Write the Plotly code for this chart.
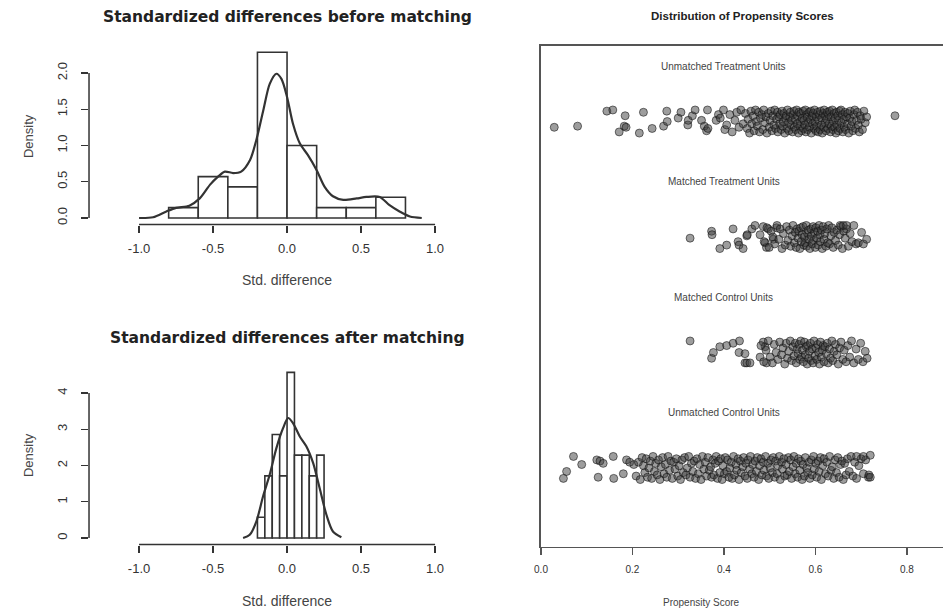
import plotly.graph_objects as go

# ---------------- Histogram data ----------------
BEFORE_BREAKS = [-0.8, -0.6, -0.4, -0.2, 0.0, 0.2, 0.4, 0.6, 0.8]
BEFORE_DENSITY = [0.143, 0.571, 0.429, 2.286, 1.0, 0.143, 0.143, 0.286]
BEFORE_CURVE_X = [-1.0, -0.905, -0.815, -0.75, -0.66, -0.59, -0.52, -0.466, -0.42, -0.365,
                  -0.31, -0.25, -0.207, -0.16, -0.117, -0.072, -0.038, 0.0, 0.04, 0.086,
                  0.14, 0.2, 0.254, 0.31, 0.38, 0.47, 0.536, 0.626, 0.69, 0.76, 0.83, 0.91]
BEFORE_CURVE_Y = [0.0, 0.01, 0.09, 0.14, 0.17, 0.27, 0.46, 0.57, 0.64, 0.62,
                  0.64, 0.8, 1.08, 1.49, 1.85, 1.99, 1.92, 1.67, 1.30, 1.03,
                  0.87, 0.66, 0.43, 0.30, 0.25, 0.27, 0.29, 0.29, 0.18, 0.09, 0.02, 0.0]

AFTER_BREAKS = [-0.2, -0.15, -0.1, -0.05, 0.0, 0.05, 0.1, 0.15, 0.2, 0.25]
AFTER_DENSITY = [0.571, 1.714, 2.857, 1.714, 4.571, 2.286, 2.286, 1.714, 2.286]
AFTER_CURVE_X = [-0.297, -0.252, -0.207, -0.162, -0.117, -0.072, -0.027, 0.007, 0.04, 0.086,
                 0.13, 0.176, 0.22, 0.266, 0.31, 0.367]
AFTER_CURVE_Y = [0.0, 0.09, 0.46, 1.15, 1.75, 2.48, 3.03, 3.31, 3.17, 2.8,
                 2.53, 2.07, 1.38, 0.64, 0.18, 0.02]

STD_X_TICKS = [-1.0, -0.5, 0.0, 0.5, 1.0]
STD_X_LABELS = ["-1.0", "-0.5", "0.0", "0.5", "1.0"]
BEFORE_Y_TICKS = [0.0, 0.5, 1.0, 1.5, 2.0]
BEFORE_Y_LABELS = ["0.0", "0.5", "1.0", "1.5", "2.0"]
AFTER_Y_TICKS = [0, 1, 2, 3, 4]
AFTER_Y_LABELS = ["0", "1", "2", "3", "4"]

# ---------------- Propensity score jitter data ----------------
GROUP_NAMES = ["Unmatched Treatment Units", "Matched Treatment Units",
               "Matched Control Units", "Unmatched Control Units"]
GROUP_LEVELS = [4, 3, 2, 1]
PS_X_TICKS = [0.0, 0.2, 0.4, 0.6, 0.8]
PS_X_LABELS = ["0.0", "0.2", "0.4", "0.6", "0.8"]

UT_X = [0.029, 0.080, 0.144, 0.157, 0.171, 0.182, 0.184, 0.186, 0.215, 0.224,
        0.243, 0.268, 0.275, 0.276, 0.300, 0.306, 0.321, 0.322, 0.331, 0.337,
        0.351, 0.357, 0.362, 0.364, 0.365, 0.383, 0.388,
        0.392, 0.399, 0.402, 0.406, 0.413, 0.418, 0.424, 0.428, 0.433, 0.437,
        0.442, 0.447, 0.451, 0.453, 0.456, 0.459, 0.461, 0.464, 0.466, 0.469,
        0.471, 0.473, 0.476, 0.478, 0.480, 0.483, 0.485, 0.487, 0.490, 0.492,
        0.494, 0.497, 0.499, 0.501, 0.503, 0.505, 0.507, 0.509, 0.511, 0.513,
        0.515, 0.517, 0.518, 0.520, 0.522, 0.523, 0.525, 0.527, 0.528, 0.530,
        0.531, 0.533, 0.535, 0.536, 0.538, 0.539, 0.541, 0.542, 0.544, 0.545,
        0.547, 0.548, 0.550, 0.551, 0.553, 0.554, 0.556, 0.557, 0.559, 0.560,
        0.561, 0.563, 0.564, 0.566, 0.567, 0.568, 0.570, 0.571, 0.573, 0.574,
        0.575, 0.577, 0.578, 0.579, 0.581, 0.582, 0.583, 0.585, 0.586, 0.587,
        0.589, 0.590, 0.591, 0.593, 0.594, 0.595, 0.597, 0.598, 0.599, 0.601,
        0.602, 0.603, 0.605, 0.606, 0.607, 0.609, 0.610, 0.611, 0.613, 0.614,
        0.615, 0.617, 0.618, 0.619, 0.621, 0.622, 0.623, 0.625, 0.626, 0.627,
        0.629, 0.630, 0.631, 0.633, 0.634, 0.635, 0.637, 0.638, 0.639, 0.641,
        0.642, 0.643, 0.645, 0.646, 0.647, 0.649, 0.650, 0.651, 0.653, 0.654,
        0.656, 0.657, 0.659, 0.660, 0.662, 0.663, 0.665, 0.666, 0.668, 0.670,
        0.671, 0.673, 0.675, 0.676, 0.678, 0.680, 0.682, 0.684, 0.686, 0.688,
        0.690, 0.692, 0.694, 0.696, 0.698, 0.700, 0.703, 0.706, 0.709, 0.712,
        0.774]
UT_DY = [-0.05, -0.04, 0.09, 0.10, -0.09, -0.04, 0.05, -0.05, -0.10, 0.08,
         -0.06, -0.04, 0.09, 0.00, 0.03, 0.08, -0.03, 0.01, 0.05, 0.10,
         0.01, -0.04, -0.08, 0.10, -0.06, 0.01, 0.06,
         0.03, 0.10, -0.07, -0.03, 0.06, -0.09, 0.01, 0.08, -0.05, 0.10,
         -0.02, 0.07, -0.06, 0.02, -0.10, 0.09, -0.02, 0.05, -0.08, 0.10,
         0.00, -0.04, 0.08, -0.09, 0.03, 0.06, -0.07, 0.10, -0.01, 0.04,
         -0.10, 0.07, -0.05, 0.01, 0.09, -0.08, 0.05, -0.03, 0.10, -0.06,
         0.02, 0.08, -0.09, 0.04, -0.02, 0.06, -0.07, 0.09, -0.04, 0.00,
         0.07, -0.10, 0.03, 0.05, -0.06, 0.10, -0.01, -0.08, 0.04, 0.08,
         -0.03, 0.01, -0.09, 0.06, 0.09, -0.05, 0.02, -0.07, 0.10, -0.02,
         0.05, -0.10, 0.08, -0.04, 0.00, 0.07, -0.08, 0.03, 0.09, -0.06,
         0.01, -0.03, 0.10, -0.09, 0.06, 0.04, -0.07, -0.01, 0.08, -0.05,
         0.02, 0.09, -0.10, 0.05, -0.02, 0.07, -0.06, 0.10, 0.00, -0.08,
         0.04, -0.04, 0.08, -0.09, 0.01, 0.06, -0.07, 0.09, -0.03, 0.03,
         -0.10, 0.07, -0.05, 0.10, -0.01, 0.05, -0.08, 0.02, 0.08, -0.06,
         0.06, -0.02, 0.09, -0.09, 0.04, -0.04, 0.10, -0.07, 0.00, 0.07,
         -0.05, 0.03, -0.10, 0.08, -0.03, 0.05, -0.08, 0.01, 0.09, -0.06,
         0.10, -0.01, 0.06, -0.09, 0.02, -0.05, 0.08, -0.07, 0.04, -0.02,
         0.07, -0.10, 0.03, 0.09, -0.04, 0.00, -0.08, 0.06, 0.10, -0.06,
         0.01, 0.08, -0.03, -0.09, 0.05, 0.02, -0.07, 0.09, -0.01, 0.04,
         0.05]

MT_X = [0.326, 0.373, 0.374, 0.391, 0.406, 0.420, 0.431, 0.433, 0.442, 0.450,
        0.451, 0.461, 0.468, 0.479, 0.486, 0.490, 0.493, 0.497, 0.508, 0.515,
        0.488, 0.494, 0.499, 0.503, 0.507, 0.511, 0.516, 0.520, 0.523, 0.527,
        0.530, 0.534, 0.537, 0.540, 0.543, 0.546, 0.549, 0.551, 0.554, 0.556,
        0.558, 0.560, 0.562, 0.564, 0.566, 0.568, 0.569, 0.571, 0.573, 0.575,
        0.576, 0.578, 0.580, 0.581, 0.583, 0.585, 0.586, 0.588, 0.590, 0.591,
        0.593, 0.595, 0.596, 0.598, 0.600, 0.601, 0.603, 0.605, 0.606, 0.608,
        0.610, 0.611, 0.613, 0.615, 0.617, 0.619, 0.621, 0.623, 0.625, 0.627,
        0.629, 0.631, 0.634, 0.636, 0.639, 0.641, 0.644, 0.647, 0.650, 0.653,
        0.656, 0.659, 0.662, 0.665, 0.668, 0.672, 0.676, 0.680, 0.684, 0.689,
        0.694, 0.701, 0.705, 0.712, 0.654, 0.661, 0.668]
MT_DY = [-0.01, 0.05, 0.02, -0.10, -0.07, 0.07, -0.04, -0.07, -0.10, 0.01,
         0.02, 0.07, 0.10, 0.02, 0.09, -0.05, -0.09, 0.07, -0.02, 0.08,
         -0.04, 0.08, -0.09, 0.05, 0.00, -0.06, 0.10, -0.02, 0.07, -0.10,
         0.03, -0.07, 0.09, -0.03, 0.06, -0.08, 0.01, 0.10, -0.05, 0.04,
         -0.09, 0.07, -0.01, 0.05, -0.10, 0.08, -0.04, 0.02, 0.09, -0.07,
         0.00, -0.05, 0.10, -0.08, 0.03, 0.06, -0.02, -0.10, 0.07, 0.01,
         -0.06, 0.09, -0.03, 0.04, -0.09, 0.08, -0.01, 0.05, -0.07, 0.10,
         0.02, -0.04, 0.06, -0.10, 0.09, -0.02, 0.03, -0.08, 0.07, -0.05,
         0.10, -0.06, 0.01, 0.08, -0.09, 0.04, -0.03, 0.06, -0.07, 0.02,
         0.09, -0.10, 0.05, -0.01, 0.07, -0.08, 0.03, -0.04, 0.10, -0.06,
         -0.05, 0.04, -0.06, -0.02, 0.10, 0.10, 0.10]

MC_X = [0.326, 0.373, 0.377, 0.391, 0.406, 0.420, 0.434, 0.433, 0.446, 0.446,
        0.450, 0.457, 0.479, 0.486, 0.490, 0.493,
        0.481, 0.487, 0.492, 0.497, 0.501, 0.506, 0.510, 0.514, 0.518, 0.522,
        0.526, 0.529, 0.533, 0.536, 0.539, 0.542, 0.545, 0.548, 0.551, 0.553,
        0.556, 0.558, 0.560, 0.562, 0.564, 0.566, 0.568, 0.570, 0.572, 0.574,
        0.576, 0.578, 0.580, 0.582, 0.583, 0.585, 0.587, 0.589, 0.591, 0.593,
        0.595, 0.597, 0.599, 0.601, 0.603, 0.605, 0.607, 0.609, 0.611, 0.613,
        0.615, 0.617, 0.619, 0.621, 0.624, 0.626, 0.628, 0.631, 0.633, 0.636,
        0.638, 0.641, 0.644, 0.647, 0.650, 0.653, 0.656, 0.660, 0.663, 0.667,
        0.671, 0.675, 0.679, 0.684, 0.689, 0.694, 0.699, 0.704, 0.709, 0.713]
MC_DY = [0.10, -0.05, 0.00, 0.05, 0.06, 0.08, 0.10, 0.00, -0.01, -0.09,
         -0.09, -0.09, -0.04, 0.09, 0.05, -0.09,
         0.06, -0.08, 0.02, 0.10, -0.04, -0.09, 0.07, 0.00, -0.06, 0.09,
         -0.02, 0.04, -0.10, 0.08, -0.05, 0.01, 0.10, -0.07, 0.05, -0.03,
         0.08, -0.09, 0.03, -0.01, 0.07, -0.06, 0.10, -0.04, 0.02, -0.08,
         0.09, -0.02, 0.05, -0.10, 0.06, -0.05, 0.01, 0.08, -0.07, 0.03,
         -0.09, 0.10, -0.03, 0.04, -0.06, 0.07, 0.00, -0.10, 0.09, -0.04,
         0.02, 0.06, -0.08, 0.05, -0.01, 0.08, -0.09, 0.03, -0.05, 0.10,
         -0.07, 0.01, 0.07, -0.02, -0.10, 0.04, 0.09, -0.06, 0.02, -0.08,
         0.06, -0.04, 0.10, -0.09, 0.03, -0.06, 0.08, -0.08, 0.01, -0.05]

UC_X = [0.049, 0.056, 0.071, 0.089, 0.122, 0.125, 0.129, 0.136, 0.158, 0.159,
        0.180, 0.187, 0.194, 0.203,
        0.208, 0.213, 0.217, 0.221, 0.224, 0.227, 0.230, 0.233, 0.236, 0.239,
        0.242, 0.245, 0.248, 0.251, 0.254, 0.257, 0.260, 0.263, 0.266, 0.269,
        0.272, 0.275, 0.278, 0.281, 0.284, 0.287, 0.290, 0.293, 0.296, 0.299,
        0.302, 0.305, 0.308, 0.311, 0.314, 0.317, 0.320, 0.323, 0.326, 0.329,
        0.332, 0.335, 0.338, 0.341, 0.344, 0.347, 0.350, 0.353, 0.356, 0.359,
        0.362, 0.365, 0.368, 0.371, 0.373, 0.376, 0.378, 0.381, 0.383, 0.386,
        0.388, 0.391, 0.393, 0.396, 0.398, 0.401, 0.403, 0.406, 0.408, 0.411,
        0.413, 0.416, 0.418, 0.421, 0.423, 0.426, 0.428, 0.431, 0.433, 0.436,
        0.438, 0.441, 0.443, 0.446, 0.448, 0.451, 0.453, 0.456, 0.458, 0.461,
        0.463, 0.466, 0.468, 0.471, 0.473, 0.476, 0.478, 0.481, 0.483, 0.486,
        0.488, 0.491, 0.493, 0.496, 0.498, 0.501, 0.503, 0.506, 0.508, 0.511,
        0.513, 0.516, 0.518, 0.521, 0.523, 0.526, 0.528, 0.531, 0.533, 0.536,
        0.538, 0.541, 0.543, 0.546, 0.548, 0.551, 0.553, 0.556, 0.558, 0.561,
        0.563, 0.566, 0.568, 0.571, 0.573, 0.576, 0.578, 0.581, 0.583, 0.586,
        0.588, 0.591, 0.593, 0.596, 0.598, 0.601, 0.603, 0.606, 0.608, 0.611,
        0.613, 0.616, 0.619, 0.622, 0.625, 0.628, 0.631, 0.634, 0.637, 0.640,
        0.643, 0.646, 0.649, 0.652, 0.655, 0.658, 0.661, 0.664, 0.667, 0.670,
        0.674, 0.678, 0.682, 0.686, 0.690, 0.695, 0.700, 0.705, 0.710, 0.716,
        0.690, 0.705, 0.720, 0.717, 0.720]
UC_DY = [-0.09, -0.03, 0.10, 0.03, 0.07, -0.08, 0.06, 0.04, 0.10, -0.09,
         -0.05, 0.07, 0.05, 0.03,
         -0.07, 0.05, -0.10, 0.09, 0.02, -0.04, 0.08, -0.08, 0.00, 0.06,
         -0.09, 0.10, -0.03, 0.04, -0.06, 0.07, -0.10, 0.01, 0.09, -0.05,
         0.03, -0.08, 0.10, -0.02, 0.06, -0.09, 0.05, -0.01, 0.08, -0.07,
         0.02, -0.10, 0.07, -0.04, 0.09, -0.06, 0.00, 0.10, -0.08, 0.04,
         -0.03, 0.06, -0.09, 0.08, -0.05, 0.03, -0.10, 0.10, -0.01, 0.05,
         -0.07, 0.09, -0.02, 0.01, -0.08, 0.07, -0.06, 0.04, 0.10, -0.09,
         0.06, -0.04, 0.08, -0.10, 0.02, -0.05, 0.09, -0.03, 0.07, -0.08,
         0.00, 0.05, -0.09, 0.10, -0.06, 0.03, -0.02, 0.08, -0.10, 0.06,
         -0.04, 0.01, 0.09, -0.07, 0.04, -0.09, 0.07, -0.01, 0.10, -0.05,
         0.03, -0.08, 0.06, -0.03, 0.09, -0.10, 0.02, 0.08, -0.06, 0.05,
         -0.02, 0.10, -0.07, 0.04, -0.09, 0.00, 0.07, -0.04, 0.09, -0.08,
         0.06, -0.05, 0.02, 0.10, -0.10, 0.05, -0.01, 0.08, -0.07, 0.03,
         -0.06, 0.09, -0.03, 0.07, -0.09, 0.01, 0.10, -0.05, 0.04, -0.08,
         0.08, -0.02, 0.06, -0.10, 0.03, -0.07, 0.09, 0.00, -0.04, 0.05,
         -0.09, 0.07, -0.06, 0.10, -0.01, 0.04, -0.08, 0.06, -0.03, 0.09,
         -0.10, 0.02, 0.08, -0.05, 0.05, -0.07, 0.10, -0.02, 0.01, -0.09,
         0.07, -0.04, 0.09, -0.08, 0.03, 0.06, -0.10, 0.04, -0.06, 0.08,
         -0.03, 0.10, -0.07, 0.05, -0.09, 0.02, 0.08, -0.05, 0.07, -0.08,
         0.10, 0.10, 0.11, -0.06, -0.08]

GROUP_X = [UT_X, MT_X, MC_X, UC_X]
GROUP_DY = [UT_DY, MT_DY, MC_DY, UC_DY]
for gx, gd in zip(GROUP_X, GROUP_DY):
    assert len(gx) == len(gd), (len(gx), len(gd))

# ---------------- Build figure ----------------
INK = "#333333"
fig = go.Figure()


def bars(breaks, dens, xa, ya):
    centers = [(a + b) / 2 for a, b in zip(breaks[:-1], breaks[1:])]
    widths = [b - a for a, b in zip(breaks[:-1], breaks[1:])]
    return go.Bar(x=centers, y=dens, width=widths, xaxis=xa, yaxis=ya,
                  marker=dict(color="white", line=dict(color=INK, width=1.6)),
                  hoverinfo="skip")


fig.add_trace(bars(BEFORE_BREAKS, BEFORE_DENSITY, "x", "y"))
fig.add_trace(go.Scatter(x=BEFORE_CURVE_X, y=BEFORE_CURVE_Y, xaxis="x", yaxis="y",
                         mode="lines", line=dict(color=INK, width=2.2, shape="spline", smoothing=0.8)))
fig.add_trace(bars(AFTER_BREAKS, AFTER_DENSITY, "x2", "y2"))
fig.add_trace(go.Scatter(x=AFTER_CURVE_X, y=AFTER_CURVE_Y, xaxis="x2", yaxis="y2",
                         mode="lines", line=dict(color=INK, width=2.2, shape="spline", smoothing=0.8)))

for lvl, gx, gd in zip(GROUP_LEVELS, GROUP_X, GROUP_DY):
    fig.add_trace(go.Scatter(
        x=gx, y=[lvl + d for d in gd], xaxis="x3", yaxis="y3", mode="markers",
        marker=dict(symbol="circle", size=8, color="rgba(60,60,60,0.5)",
                    line=dict(color="rgba(15,15,15,0.55)", width=1))))

tick_font = dict(family="Liberation Sans", size=13, color=INK)
# x = 0 sits at 287 px, 148 px per unit; the R plot region starts where its y axis is
STD_RANGE = [-1.338, 1.236]
common_x = dict(range=STD_RANGE, tickvals=STD_X_TICKS, ticktext=STD_X_LABELS,
                ticks="outside", ticklen=7, tickwidth=1.5, tickcolor=INK,
                showline=False, showgrid=False, zeroline=False, tickfont=tick_font,
                ticklabelstandoff=5, automargin=False)
common_y = dict(ticks="outside", ticklen=7, tickwidth=1.5, tickcolor=INK, tickangle=-90,
                showline=False, showgrid=False, zeroline=False, tickfont=tick_font,
                ticklabelstandoff=9, automargin=False)

fig.update_layout(
    width=943, height=610, margin=dict(l=0, r=0, t=0, b=0),
    paper_bgcolor="white", plot_bgcolor="white", showlegend=False,
    font=dict(family="Liberation Sans", color=INK),
    xaxis=dict(domain=[0.0944, 0.4984], anchor="y", **common_x),
    yaxis=dict(domain=[0.6318, 0.9244], anchor="x", range=[-0.0912, 2.3712],
               tickvals=BEFORE_Y_TICKS, ticktext=BEFORE_Y_LABELS, **common_y),
    xaxis2=dict(domain=[0.0944, 0.4984], anchor="y2", **common_x),
    yaxis2=dict(domain=[0.1072, 0.4005], anchor="x2", range=[-0.183, 4.754],
                tickvals=AFTER_Y_TICKS, ticktext=AFTER_Y_LABELS, **common_y),
    xaxis3=dict(domain=[0.5737, 1.0], anchor="y3", range=[0, 0.879],
                tickvals=PS_X_TICKS, ticktext=PS_X_LABELS, ticks="outside", ticklen=7,
                tickwidth=1.5, tickcolor="#555", showline=True, mirror=True,
                linecolor="#555", linewidth=1.5, showgrid=False, zeroline=False,
                tickfont=dict(family="Liberation Sans", size=10, color=INK),
                ticklabelstandoff=6, automargin=False),
    yaxis3=dict(domain=[0.1033, 0.9246], anchor="x3", range=[0.316, 4.654],
                showline=True, linecolor="#555", linewidth=1.5, showgrid=False,
                zeroline=False, showticklabels=False, ticks="", automargin=False),
    bargap=0,
)

# R-style axis lines spanning only the tick range
shapes = []
for xa, ya, yt in [("x", "y", BEFORE_Y_TICKS), ("x2", "y2", AFTER_Y_TICKS)]:
    shapes.append(dict(type="line", xref=xa, yref=f"{ya} domain", x0=STD_X_TICKS[0],
                       x1=STD_X_TICKS[-1], y0=0, y1=0, line=dict(color=INK, width=1.5)))
    shapes.append(dict(type="line", xref=f"{xa} domain", yref=ya, x0=0, x1=0,
                       y0=yt[0], y1=yt[-1], line=dict(color=INK, width=1.5)))
fig.update_layout(shapes=shapes)

ann = []
title_font = dict(family="DejaVu Sans", size=15.5, color="#222")
ann.append(dict(text="<b>Standardized differences before matching</b>", xref="paper", yref="paper",
                x=0.3054, y=0.9721, showarrow=False, font=title_font, xanchor="center", yanchor="middle"))
ann.append(dict(text="<b>Standardized differences after matching</b>", xref="paper", yref="paper",
                x=0.3049, y=0.4459, showarrow=False, font=title_font, xanchor="center", yanchor="middle"))
ann.append(dict(text="<b>Distribution of Propensity Scores</b>", xref="paper", yref="paper",
                x=0.7879, y=0.9738, showarrow=False,
                font=dict(family="Liberation Sans", size=11.5, color="#222"),
                xanchor="center", yanchor="middle"))
lab_font = dict(family="Liberation Sans", size=14, color="#444")
ann.append(dict(text="Std. difference", xref="x", yref="paper", x=0, y=0.541,
                showarrow=False, font=lab_font, yanchor="middle"))
ann.append(dict(text="Std. difference", xref="x2", yref="paper", x=0, y=0.0148,
                showarrow=False, font=lab_font, yanchor="middle"))
ann.append(dict(text="Density", xref="paper", yref="paper", x=0.0297, y=0.777,
                showarrow=False, font=dict(family="Liberation Sans", size=13, color="#444"),
                textangle=-90, xanchor="center", yanchor="middle"))
ann.append(dict(text="Density", xref="paper", yref="paper", x=0.0297, y=0.254,
                showarrow=False, font=dict(family="Liberation Sans", size=13, color="#444"),
                textangle=-90, xanchor="center", yanchor="middle"))
ann.append(dict(text="Propensity Score", xref="paper", yref="paper", x=0.7865, y=0.0131,
                showarrow=False, font=dict(family="Liberation Sans", size=10, color="#444"),
                yanchor="middle"))
for name, lvl in zip(GROUP_NAMES, GROUP_LEVELS):
    ann.append(dict(text=name, xref="x3", yref="y3", x=0.4, y=lvl + 0.48, showarrow=False,
                    font=dict(family="Liberation Sans", size=10, color="#444"),
                    xanchor="center", yanchor="middle"))
fig.update_layout(annotations=ann)

fig.write_html("out.html", config={"displayModeBar": False, "staticPlot": True},
               post_script="document.body.style.margin='0';document.body.style.overflow='hidden';")
